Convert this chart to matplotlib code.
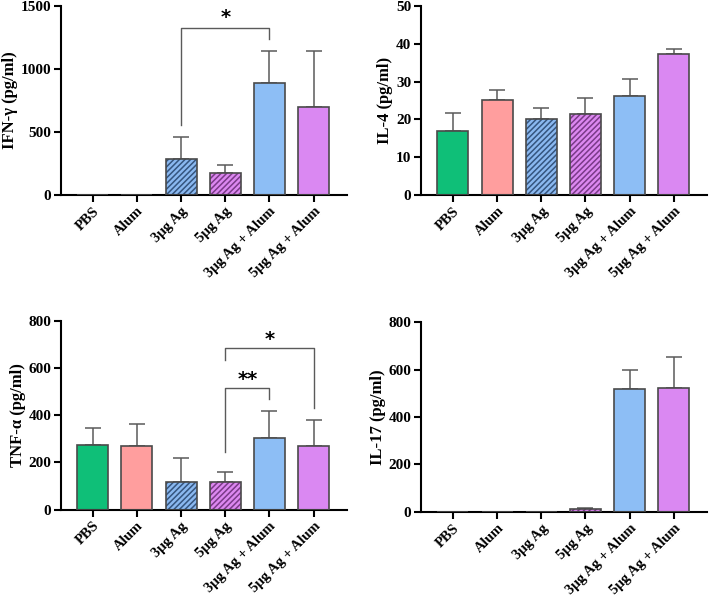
import numpy as np
import matplotlib
matplotlib.use("Agg")
from matplotlib import pyplot as plt

plt.rcParams['font.family'] = ['Liberation Serif', 'DejaVu Serif']
plt.rcParams['font.weight'] = 'bold'
plt.rcParams['hatch.linewidth'] = 1.1

groups = ['PBS', 'Alum', '3μg Ag', '5μg Ag', '3μg Ag + Alum', '5μg Ag + Alum']
colors = ['#0fbf78', '#ff9e9e', '#8ab8f0', '#dc88f0', '#8dbef5', '#da88f2']
hatch_colors = [None, None, '#35557f', '#7a3a88', None, None]

ifn = [0, 0, 288, 177, 892, 696]
ifn_err = [0, 0, 175, 64, 251, 447]
il4 = [16.8, 25.0, 20.2, 21.4, 26.2, 37.4]
il4_err = [5.0, 2.7, 2.9, 4.3, 4.5, 1.3]
tnf = [274, 268, 118, 116, 302, 271]
tnf_err = [72, 93, 102, 42, 116, 107]
il17 = [0, 0, 0, 10, 517, 521]
il17_err = [0, 0, 0, 4, 82, 130]

# brackets: (left bar, right bar, top y, left leg bottom, right leg bottom, label, label y)
ifn_sig = [(2, 4, 1323, 556, 1236, '*', 1410)]
tnf_sig = [(3, 4, 514, 245, 468, '**', 550),
           (3, 5, 684, 633, 429, '*', 720)]

panels = [
    ([0.086, 0.674, 0.403, 0.316], ifn, ifn_err, 'IFN-γ (pg/ml)', 1500, 500, ifn_sig),
    ([0.594, 0.674, 0.403, 0.316], il4, il4_err, 'IL-4 (pg/ml)', 50, 10, []),
    ([0.086, 0.1477, 0.403, 0.316], tnf, tnf_err, 'TNF-α (pg/ml)', 800, 200, tnf_sig),
    ([0.594, 0.1443, 0.403, 0.317], il17, il17_err, 'IL-17 (pg/ml)', 800, 200, []),
]

fig = plt.figure(figsize=(7.09, 5.98), dpi=100)
x = np.arange(len(groups))
edge = '#4a4a4a'

for rect, vals, errs, ylabel, ymax, step, sigs in panels:
    ax = fig.add_axes(rect)
    # hatched fill first, then outline on top
    for i in range(len(groups)):
        if hatch_colors[i]:
            ax.bar(x[i], vals[i], width=0.7, color=colors[i],
                   edgecolor=hatch_colors[i], hatch='//////', linewidth=0, zorder=2)
        else:
            ax.bar(x[i], vals[i], width=0.7, color=colors[i], linewidth=0, zorder=2)
    ax.bar(x, vals, width=0.7, fill=False, edgecolor=edge, linewidth=1.2, zorder=3)
    ax.errorbar(x, vals, yerr=[np.zeros(len(vals)), errs], fmt='none',
                ecolor='#5a5a5a', elinewidth=1.1, capsize=5.5, capthick=1.1, zorder=1)

    for a, b, top, lb, rb, lab, ly in sigs:
        ax.plot([x[a], x[a], x[b], x[b]], [lb, top, top, rb], color='#5a5a5a', lw=1.0,
                clip_on=False, zorder=4)
        ax.text((x[a] + x[b]) / 2, ly, lab, ha='center', va='center',
                fontsize=14, fontweight='bold', family='DejaVu Sans')

    ax.set_xlim(-0.72, 5.75)
    ax.set_ylim(0, ymax)
    ax.set_yticks(np.arange(0, ymax + step, step))
    ax.set_xticks(x)
    ax.set_xticklabels(groups, rotation=45, ha='right', rotation_mode='anchor',
                       fontsize=10.5, fontweight='bold')
    ax.set_ylabel(ylabel, fontsize=12, fontweight='bold', labelpad=2)
    for lab in ax.get_yticklabels():
        lab.set_fontweight('bold')
        lab.set_fontsize(11)
    ax.spines['top'].set_visible(False)
    ax.spines['right'].set_visible(False)
    ax.spines['left'].set_linewidth(1.5)
    ax.spines['bottom'].set_linewidth(1.5)
    ax.tick_params(axis='both', direction='out', length=5, width=1.5, pad=2)

fig.savefig('out.png', dpi=100)
